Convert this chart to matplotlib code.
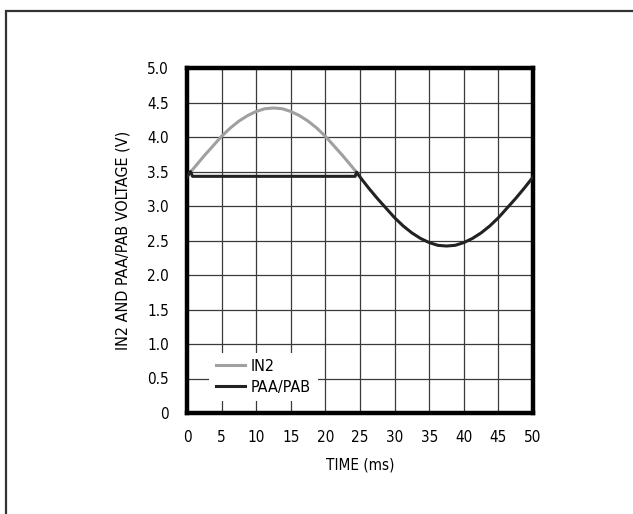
import matplotlib
matplotlib.use('Agg')
import matplotlib.pyplot as plt
import matplotlib.patches as patches
from matplotlib import font_manager as fm

# IN2 input (gray), first half cycle only
in2_t = [0.5, 1.25, 2.5, 3.75, 5.0, 6.25, 7.5, 8.75, 10.0, 11.25, 12.5,
         13.75, 15.0, 16.25, 17.5, 18.75, 20.0, 21.25, 22.5, 23.75, 24.5]
in2_v = [3.49, 3.58, 3.73, 3.87, 4.01, 4.13, 4.23, 4.31, 4.37, 4.41, 4.42,
         4.41, 4.37, 4.31, 4.23, 4.13, 4.01, 3.87, 3.73, 3.58, 3.49]

# PAA/PAB output (black): held flat, then tracks the input
paa_t = [0.0, 0.5, 0.8, 24.3, 24.5, 25.0, 26.25, 27.5, 28.75, 30.0, 31.25,
         32.5, 33.75, 35.0, 36.25, 37.5, 38.75, 40.0, 41.25, 42.5, 43.75,
         45.0, 46.25, 47.5, 48.75, 50.0]
paa_v = [3.42, 3.50, 3.43, 3.43, 3.49, 3.42, 3.26, 3.11, 2.97, 2.83, 2.71,
         2.61, 2.53, 2.47, 2.43, 2.42, 2.43, 2.47, 2.53, 2.61, 2.71,
         2.83, 2.97, 3.11, 3.26, 3.42]

x_ticks = [0, 5, 10, 15, 20, 25, 30, 35, 40, 45, 50]
y_ticks = [0, 0.5, 1.0, 1.5, 2.0, 2.5, 3.0, 3.5, 4.0, 4.5, 5.0]
y_labels = ['0', '0.5', '1.0', '1.5', '2.0', '2.5', '3.0', '3.5', '4.0', '4.5', '5.0']

# narrow face if there is one
names = {f.name for f in fm.fontManager.ttflist}
family = 'Liberation Sans Narrow' if 'Liberation Sans Narrow' in names else 'DejaVu Sans'
plt.rcParams['font.family'] = [family, 'DejaVu Sans']
plt.rcParams['font.stretch'] = 'condensed'

fig = plt.figure(figsize=(6.33, 5.14), dpi=100)
ax = fig.add_axes([187 / 633, 1 - 413 / 514, 346 / 633, 345 / 514])

# outer frame (runs off the right and bottom edges)
fig.add_artist(patches.Rectangle((6 / 633, -0.1), 1.2, 1 - 11 / 514 + 0.1,
                                 transform=fig.transFigure, fill=False,
                                 edgecolor='#333333', linewidth=1.6))

ax.plot(in2_t, in2_v, color='#a0a0a0', linewidth=2.2, label='IN2', zorder=3)
ax.plot(paa_t, paa_v, color='#222222', linewidth=2.2, label='PAA/PAB', zorder=4)

ax.set_xlim(0, 50)
ax.set_ylim(0, 5.0)
ax.set_xticks(x_ticks)
ax.set_yticks(y_ticks)
ax.set_yticklabels(y_labels)
ax.tick_params(length=0, labelsize=11)
ax.tick_params(axis='x', pad=12)
ax.tick_params(axis='y', pad=13)
ax.grid(True, color='#3a3a3a', linewidth=0.9)
ax.set_axisbelow(True)
for s in ax.spines.values():
    s.set_linewidth(3.2)
    s.set_color('black')

ax.set_xlabel('TIME (ms)', fontsize=11, labelpad=9)
ax.set_ylabel('IN2 AND PAA/PAB VOLTAGE (V)', fontsize=11.5, labelpad=12)

leg = ax.legend(loc='lower left', bbox_to_anchor=(0.065, 0.035), frameon=True,
                fancybox=False, edgecolor='none', facecolor='white', framealpha=1,
                fontsize=11.5, handlelength=1.8, handletextpad=0.4,
                labelspacing=0.35, borderaxespad=0, borderpad=0.4)

fig.savefig('out.png', dpi=100)
